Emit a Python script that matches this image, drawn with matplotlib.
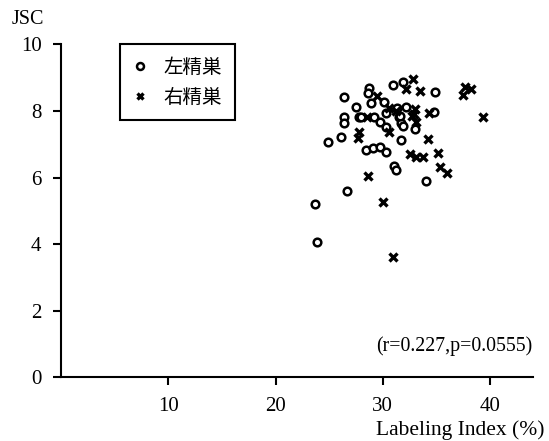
import matplotlib
matplotlib.use("Agg")
import matplotlib.pyplot as plt
from matplotlib.lines import Line2D

# Left testis (circles)
left_x = [23.7, 23.9, 26.7, 24.9, 26.1, 26.4, 26.4, 26.4, 27.5, 27.8, 28.4, 29.1, 29.7,
          30.3, 28.7, 28.6, 28.9, 29.2, 29.7, 30.1, 30.3, 30.3, 30.9, 31.0, 31.2, 31.3,
          31.5, 31.7, 31.7, 31.9, 31.9, 32.2, 33.0, 34.0, 34.9, 34.8, 28.0, 31.6]
left_y = [5.21, 4.05, 5.59, 7.08, 7.21, 8.41, 7.81, 7.63, 8.13, 7.81, 6.83, 6.88, 6.92,
          6.77, 8.68, 8.53, 8.23, 7.81, 7.68, 8.28, 7.93, 7.53, 8.78, 6.35, 6.23, 8.08,
          7.81, 7.65, 7.13, 8.88, 7.55, 8.13, 7.45, 5.90, 8.56, 7.96, 7.82, 7.85]

# Right testis (crosses)
right_x = [32.8, 32.2, 33.5, 29.5, 30.6, 33.0, 32.9, 34.3, 33.1, 30.6, 27.8, 27.7, 34.2,
           32.5, 33.1, 33.7, 35.1, 35.3, 36.0, 28.6, 30.0, 30.9, 37.7, 38.2, 37.5, 39.3,
           28.5, 31.2, 32.7]
right_y = [8.96, 8.65, 8.61, 8.45, 8.08, 8.05, 7.91, 7.93, 7.68, 7.38, 7.38, 7.18, 7.16,
           6.71, 6.61, 6.61, 6.74, 6.31, 6.14, 6.05, 5.26, 3.60, 8.71, 8.65, 8.48, 7.81,
           7.82, 8.00, 7.85]

x_ticks = [10, 20, 30, 40]
y_ticks = [0, 2, 4, 6, 8, 10]
legend_labels = ["左精巣", "右精巣"]
annotation = "(r=0.227,p=0.0555)"

serif = "Liberation Serif"
cjk = ["Noto Sans CJK JP", "DejaVu Sans"]

fig = plt.figure(figsize=(5.49, 4.41), dpi=100)
ax = fig.add_axes([0.111, 0.1444, 0.860, 0.7551])

ax.plot(left_x, left_y, linestyle="none", marker="o", markersize=5.5,
        markerfacecolor="white", markeredgecolor="black", markeredgewidth=1.8, zorder=3)
ax.plot(right_x, right_y, linestyle="none", marker="x", markersize=6,
        color="black", markeredgewidth=2.4, zorder=3)

ax.set_xlim(0, 44)
ax.set_ylim(0, 10)
ax.set_xticks(x_ticks)
ax.set_yticks(y_ticks)
for s in ["top", "right"]:
    ax.spines[s].set_visible(False)
for s in ["left", "bottom"]:
    ax.spines[s].set_linewidth(1.5)
ax.tick_params(direction="out", length=6, width=1.5, labelsize=15, pad=8)
for lab in ax.get_xticklabels() + ax.get_yticklabels():
    lab.set_fontfamily(serif)

fig.text(12 / 549, 1 - 19 / 441, "JSC", fontsize=14.5, family=serif,
         ha="left", va="center")
fig.text(545 / 549, 1 - 430 / 441, "Labeling Index (%)", fontsize=15.5, family=serif,
         ha="right", va="center")
ax.text(0.998, 0.095, annotation, transform=ax.transAxes, fontsize=14.3,
        family=serif, ha="right", va="center")

handles = [
    Line2D([], [], linestyle="none", marker="o", markersize=5, markerfacecolor="white",
           markeredgecolor="black", markeredgewidth=1.8),
    Line2D([], [], linestyle="none", marker="x", markersize=5, color="black",
           markeredgewidth=2.4),
]
leg = ax.legend(handles, legend_labels, loc="upper left",
                bbox_to_anchor=(59 / 472, 1.0), prop={"family": cjk, "size": 14},
                frameon=True, fancybox=False, edgecolor="black", framealpha=1,
                handlelength=0.8, handletextpad=0.8, borderpad=0.65,
                labelspacing=0.45, borderaxespad=0)
leg.get_frame().set_linewidth(1.5)

fig.savefig("out.png", dpi=100)
